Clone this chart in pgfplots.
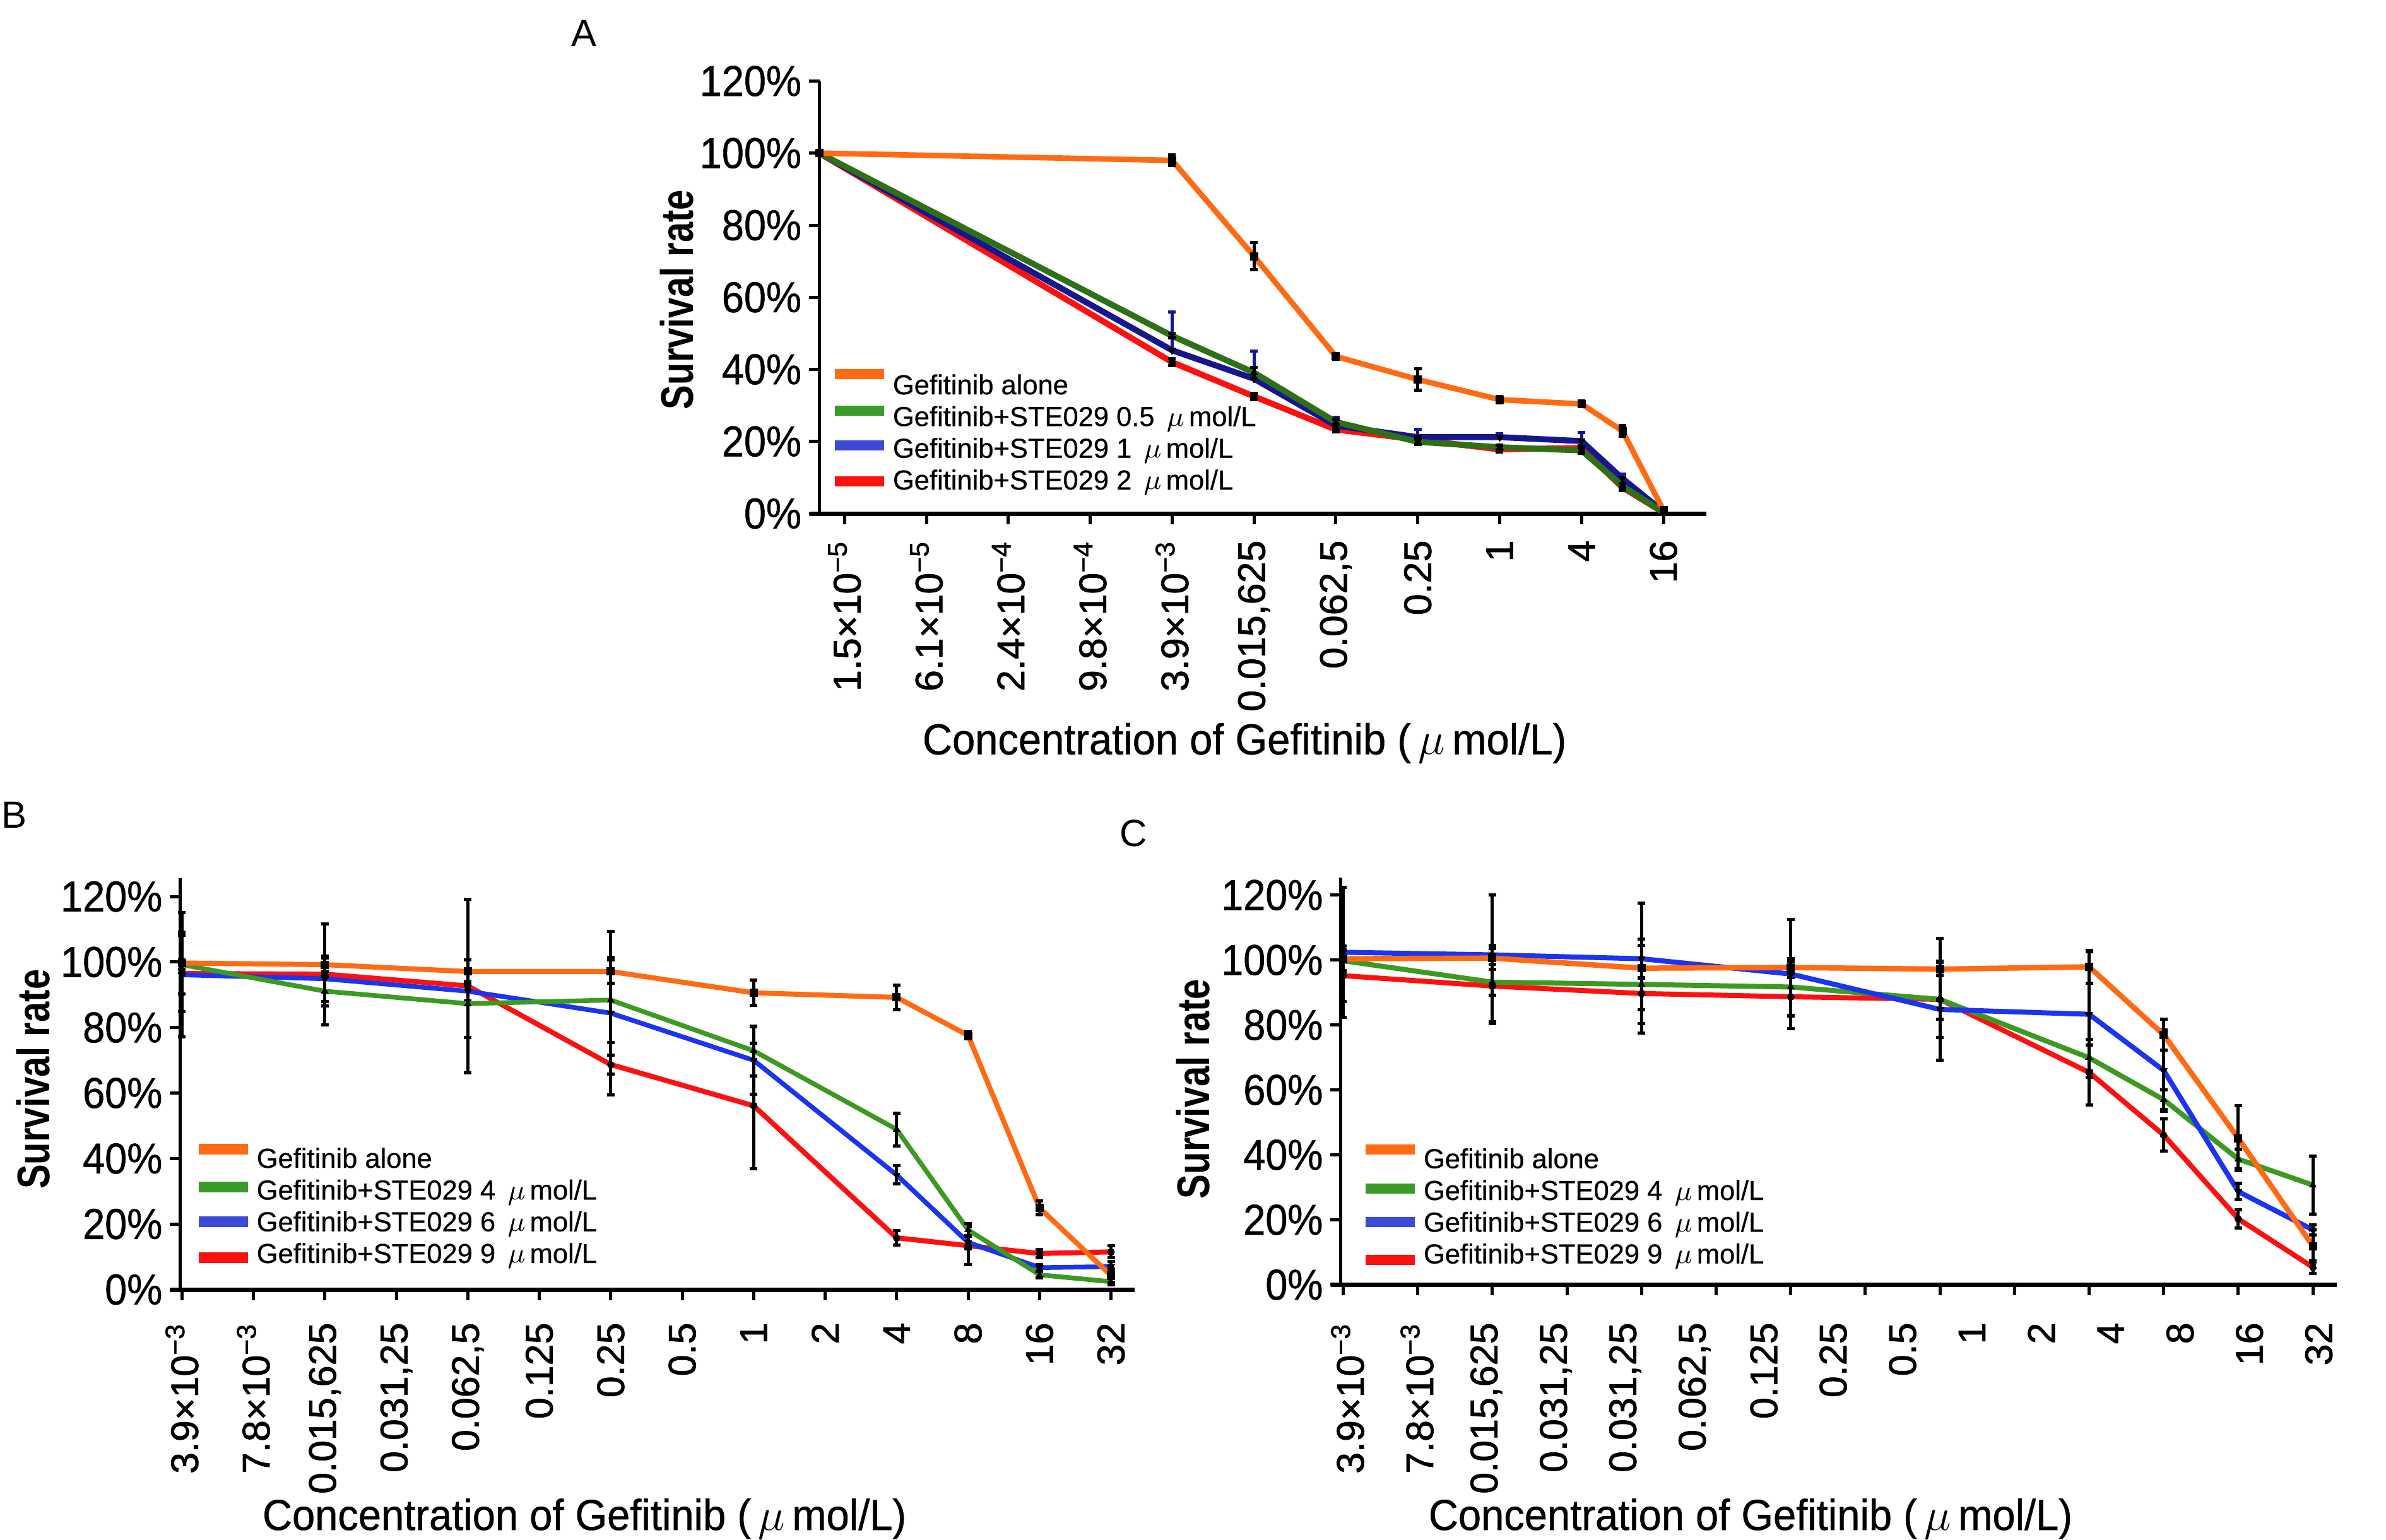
\documentclass[border=0pt]{standalone}
\usepackage{fontspec}
\setmainfont{Liberation Sans}
\newfontfamily\ylabfont[FakeStretch=0.8]{Liberation Sans}
\newfontfamily\ytickfont[FakeStretch=0.92,FakeBold=0.7]{Liberation Sans}
\newfontfamily\xlabfont[FakeStretch=0.95,FakeBold=0.7]{Liberation Sans}
\newfontfamily\xtickfont[FakeBold=1.2]{Liberation Sans}
\newfontfamily\legfont[FakeBold=0.6]{Liberation Sans}
\usepackage{pgfplots}
\pgfplotsset{compat=1.18}

\definecolor{cOr}{HTML}{FF6A13}
\definecolor{cGr}{HTML}{3C9A22}
\definecolor{cGrL}{HTML}{3A9A2A}
\definecolor{cBl}{HTML}{1A34F2}
\definecolor{cBlL}{HTML}{3B4BD8}
\definecolor{cRd}{HTML}{FF1010}
\definecolor{cGrA}{HTML}{2E7018}
\definecolor{cBlA}{HTML}{161690}

\pgfplotsset{
  panel/.style={
    scale only axis, clip=false,
    axis x line*=bottom, axis y line*=left,
    x axis line style={-, line width=1.4pt, shorten <=-3.2pt},
    y axis line style={-, line width=1pt},
    tick align=outside,
    major tick length=3.3pt,
    minor tick length=3.3pt,
    major tick style={black, line width=1pt},
    minor tick style={black, line width=1pt},
    ymin=0,
    ytick={0,20,40,60,80,100,120},
    yticklabels={0\%,20\%,40\%,60\%,80\%,100\%,120\%},
    yticklabel style={font=\ytickfont\fontsize{13.7}{14}\selectfont, inner sep=0pt},
    yticklabel shift=2.2pt,
    xticklabel style={font=\xtickfont\fontsize{12.2}{13}\selectfont, rotate=90, anchor=east, inner sep=0pt},
    ylabel style={font=\ylabfont\bfseries\fontsize{14.5}{16}\selectfont, anchor=center},
    xlabel style={font=\xlabfont\fontsize{13.7}{16}\selectfont, anchor=base},
    xlabel={Concentration of Gefitinib (\,$\mu$\,mol/L)},
    ylabel={Survival rate},
    legend cell align=left,
    legend style={draw=none, fill=none, inner sep=0pt, outer sep=0pt, anchor=north west,
      row sep=1.76pt, column sep=2.75pt, font=\legfont\fontsize{8.7}{9.5}\selectfont,
      nodes={inner sep=0pt, text height=6.4pt, text depth=1.9pt}},
  },
  ln/.style={line width=#1, line join=round},
  ebar/.style={error bars/.cd, y dir=both, y explicit,
    error bar style={line width=1pt, #1},
    error mark options={rotate=90, mark size=1.2pt, line width=1pt, #1}},
  mO/.style={mark=square*, mark size=1.2pt, mark options={black, fill=black, line width=0pt}},
  mG/.style={mark=triangle*, mark size=1.3pt, mark options={black, fill=black, line width=0pt}},
  mB/.style={mark=triangle*, mark size=1.3pt, mark options={black, fill=black, line width=0pt, rotate=180}},
  mR/.style={mark=*, mark size=1.1pt, mark options={black, fill=black, line width=0pt}},
}
% legend swatch: #1 colour, #2 width, #3 lower y, #4 upper y
\newcommand\swatch[4]{\addlegendimage{legend image code/.code={%
  \path[draw=none,fill=none] (0pt,0pt) -- (#2,0pt);%
  \fill[#1,draw=none,overlay] (0pt,#3) rectangle (#2,#4);}}}

\begin{document}
\begin{tikzpicture}
\path[use as bounding box] (0,0) rectangle (756.2pt,488pt);

% ---------------- Panel A ----------------
\begin{axis}[panel,
  at={(259.7pt,325.2pt)}, anchor=south west,
  width=281pt, height=137.1pt,
  xmin=-0.306, xmax=10.52, ymax=120,
  xtick={0,1,2,3,4,5,6,7,8,9,10},
  xticklabels={1.5×10\textsuperscript{−5},6.1×10\textsuperscript{−5},2.4×10\textsuperscript{−4},9.8×10\textsuperscript{−4},3.9×10\textsuperscript{−3},{0.015,625},{0.062,5},0.25,1,4,16},
  xticklabel shift=5pt,
  ylabel style={at={(axis description cs:-0.1605,0.4945)}},
  xlabel style={at={(axis description cs:0.4794,-0.5567)}},
  legend style={at={(0.0172,0.3224)}},
]
\swatch{cOr}{15.7pt}{2.55pt}{5.75pt}
\addlegendentry{Gefitinib alone}
\swatch{cGrL}{15.7pt}{1.03pt}{4.23pt}
\addlegendentry{Gefitinib+STE029 0.5 \,$\mu$\,mol/L}
\swatch{cBlL}{15.7pt}{0.01pt}{3.21pt}
\addlegendentry{Gefitinib+STE029 1 \,$\mu$\,mol/L}
\swatch{cRd}{15.7pt}{-1.35pt}{1.85pt}
\addlegendentry{Gefitinib+STE029 2 \,$\mu$\,mol/L}

\addplot[forget plot, cRd, ln=1.9pt, mR, ebar=black] coordinates {
 (-0.306,100) +- (0,0.3) (4,42.0) +- (0,0.9) (5,32.5) +- (0,0.9) (6,23.3) +- (0,0.6)
 (7,20.5) +- (0,0.6) (8,17.8) +- (0,0.8) (9,18.2) +- (0,0.6) (9.5,7.2) +- (0,0.8) (10,0.3) +- (0,0.3)};
\addplot[forget plot, cBlA, ln=1.9pt, mB, error bars/.cd, y dir=plus, y explicit,
  error bar style={line width=1pt, cBlA}, error mark options={rotate=90, mark size=1.2pt, line width=1pt, cBlA}] coordinates {
 (-0.306,100) +- (0,0.3) (4,45.3) +- (0,10.6) (5,37.4) +- (0,7.6) (6,24.4) +- (0,2.3)
 (7,21.2) +- (0,2.1) (8,21.2) +- (0,1.0) (9,20.1) +- (0,2.4) (9.5,9.7) +- (0,1.2) (10,0.5) +- (0,0.3)};
\addplot[forget plot, cGrA, ln=1.9pt, mG, ebar=black] coordinates {
 (-0.306,100) +- (0,0.3) (4,49.3) +- (0,0.6) (5,39.1) +- (0,1.5) (6,25.4) +- (0,0.8)
 (7,19.9) +- (0,0.8) (8,18.4) +- (0,0.6) (9,17.5) +- (0,0.8) (9.5,7.6) +- (0,0.8) (10,0.3) +- (0,0.3)};
\addplot[forget plot, cOr, ln=1.75pt, mO, ebar=black] coordinates {
 (-0.306,100) +- (0,0.5) (4,98.0) +- (0,1.5) (5,71.4) +- (0,3.8) (6,43.6) +- (0,0.8)
 (7,37.2) +- (0,3.0) (8,31.6) +- (0,0.8) (9,30.4) +- (0,0.8) (9.5,22.9) +- (0,1.5) (10,0.9) +- (0,0.8)};
\end{axis}

% ---------------- Panel B ----------------
\begin{axis}[panel,
  at={(57.16pt,79.2pt)}, anchor=south west,
  width=302.44pt, height=130.4pt,
  xmin=-0.022, xmax=13.33, ymax=125.6,
  xtick={0,1,2,3,4,5,6,7,8,9,10,11,12,13},
  xticklabels={3.9×10\textsuperscript{−3},7.8×10\textsuperscript{−3},{0.015,625},{0.031,25},{0.062,5},0.125,0.25,0.5,1,2,4,8,16,32},
  xticklabel shift=7pt,
  ylabel style={at={(axis description cs:-0.154,0.5113)}},
  xlabel style={at={(axis description cs:0.4234,-0.5844)}},
  legend style={at={(0.019,0.3451)}},
]
\swatch{cOr}{15.7pt}{1.89pt}{5.29pt}
\addlegendentry{Gefitinib alone}
\swatch{cGrL}{15.7pt}{0.09pt}{3.49pt}
\addlegendentry{Gefitinib+STE029 4 \,$\mu$\,mol/L}
\swatch{cBlL}{15.7pt}{-0.91pt}{2.49pt}
\addlegendentry{Gefitinib+STE029 6 \,$\mu$\,mol/L}
\swatch{cRd}{15.7pt}{-2.31pt}{1.09pt}
\addlegendentry{Gefitinib+STE029 9 \,$\mu$\,mol/L}

\addplot[forget plot, cRd, ln=1.6pt, mR, ebar=black] coordinates {
 (0,96.5) +- (0,11.6) (2,96.3) +- (0,15.4) (4,92.7) +- (0,26.5) (6,68.7) +- (0,2.9)
 (8,56.1) +- (0,19.2) (10,15.8) +- (0,2.2) (11,13.4) +- (0,5.7) (12,11.0) +- (0,1.2) (13,11.5) +- (0,1.8)};
\addplot[forget plot, cBl, ln=1.5pt, mB, ebar=black] coordinates {
 (0,96.1) +- (0,19.0) (2,94.9) +- (0,7.0) (4,91.1) +- (0,3.0) (6,84.4) +- (0,25.0)
 (8,70.0) +- (0,10.3) (10,35.0) +- (0,2.8) (11,14.4) +- (0,2.0) (12,6.7) +- (0,1.0) (13,7.0) +- (0,1.5)};
\addplot[forget plot, cGr, ln=1.5pt, mG, ebar=black] coordinates {
 (0,99.2) +- (0,1.5) (2,91.1) +- (0,4.5) (4,87.3) +- (0,10.3) (6,88.4) +- (0,13.0)
 (8,72.9) +- (0,7.6) (10,48.9) +- (0,5.0) (11,18.2) +- (0,2.0) (12,4.5) +- (0,1.0) (13,2.4) +- (0,1.0)};
\addplot[forget plot, cOr, ln=1.6pt, mO, ebar=black] coordinates {
 (0,99.7) +- (0,9.5) (2,99.2) +- (0,2.0) (4,97.1) +- (0,3.6) (6,97.1) +- (0,3.6)
 (8,90.6) +- (0,3.8) (10,89.2) +- (0,3.7) (11,77.6) +- (0,1.0) (12,24.9) +- (0,2.1) (13,4.3) +- (0,2.0)};
\end{axis}

% ---------------- Panel C ----------------
\begin{axis}[panel,
  at={(424.98pt,80.72pt)}, anchor=south west,
  width=315.6pt, height=129.08pt,
  xmin=-0.03, xmax=13.32, ymax=125.4,
  xtick={0.06,0.99,1.92,2.85,3.78,4.71,5.64,6.57,7.50,8.43,9.36,10.29,11.22,12.15,13.08},
  xticklabels={3.9×10\textsuperscript{−3},7.8×10\textsuperscript{−3},{0.015,625},{0.031,25},{0.031,25},{0.062,5},0.125,0.25,0.5,1,2,4,8,16,32},
  major x tick style={draw=none},
  minor xtick={0,1,2,3,4,5,6,7,8,9,10,11,12,13},
  xticklabel shift=8.5pt,
  ylabel style={at={(axis description cs:-0.1482,0.481)}},
  xlabel style={at={(axis description cs:0.4113,-0.6021)}},
  legend style={at={(0.0249,0.3358)}},
]
\swatch{cOr}{15.6pt}{2.17pt}{5.37pt}
\addlegendentry{Gefitinib alone}
\swatch{cGrL}{15.6pt}{-0.19pt}{3.01pt}
\addlegendentry{Gefitinib+STE029 4 \,$\mu$\,mol/L}
\swatch{cBlL}{15.6pt}{-0.85pt}{2.35pt}
\addlegendentry{Gefitinib+STE029 6 \,$\mu$\,mol/L}
\swatch{cRd}{15.6pt}{-2.73pt}{0.47pt}
\addlegendentry{Gefitinib+STE029 9 \,$\mu$\,mol/L}

\addplot[forget plot, cRd, ln=1.6pt, mR, ebar=black] coordinates {
 (0,95.2) +- (0,8.0) (2,92.0) +- (0,11.5) (4,89.7) +- (0,5.0) (6,88.7) +- (0,6.0)
 (8,87.9) +- (0,18.8) (10,65.4) +- (0,10.1) (11,46.1) +- (0,5.0) (12,20.3) +- (0,2.9) (13,5.4) +- (0,2.0)};
\addplot[forget plot, cGr, ln=1.6pt, mG, ebar=black] coordinates {
 (0,99.8) +- (0,3.0) (2,93.2) +- (0,4.0) (4,92.5) +- (0,12.0) (6,91.7) +- (0,8.8)
 (8,87.9) +- (0,11.8) (10,69.9) +- (0,4.0) (11,57.0) +- (0,3.0) (12,38.7) +- (0,3.0) (13,30.7) +- (0,9.0)};
\addplot[forget plot, cBl, ln=1.6pt, mB, ebar=black] coordinates {
 (0,102.4) +- (0,20.0) (2,101.6) +- (0,3.0) (4,100.4) +- (0,6.0) (6,95.7) +- (0,16.8)
 (8,84.8) +- (0,3.0) (10,83.3) +- (0,19.3) (11,66.0) +- (0,12.5) (12,28.7) +- (0,2.5) (13,16.9) +- (0,1.5)};
\addplot[forget plot, cOr, ln=1.7pt, mO, ebar=black] coordinates {
 (0,100.4) +- (0,4.0) (2,100.6) +- (0,19.5) (4,97.5) +- (0,20.0) (6,97.7) +- (0,2.0)
 (8,97.2) +- (0,2.0) (10,97.9) +- (0,5.0) (11,77.0) +- (0,4.8) (12,45.1) +- (0,10.0) (13,11.9) +- (0,5.0)};
\end{axis}

% panel letters
\node[font=\fontsize{12}{14}\selectfont] at (185pt,477.4pt) {A};
\node[font=\fontsize{12}{14}\selectfont, anchor=west, inner sep=0pt] at (0.3pt,229.6pt) {B};
\node[font=\fontsize{12}{14}\selectfont] at (359.2pt,223.8pt) {C};
\end{tikzpicture}
\end{document}
